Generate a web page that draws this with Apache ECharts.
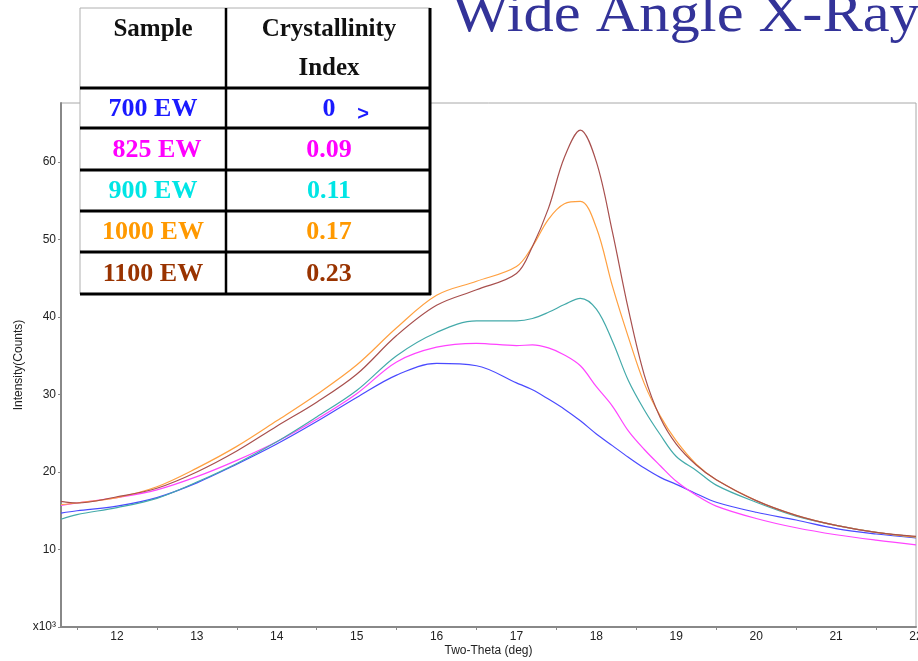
<!DOCTYPE html>
<html>
<head>
<meta charset="utf-8">
<script src="https://cdn.jsdelivr.net/npm/echarts@6/dist/echarts.min.js"></script>
<style>
  html, body { margin: 0; padding: 0; background: #fff; }
  #chart { width: 918px; height: 661px; }
</style>
</head>
<body>
<div id="chart"></div>
<script>
// Two-theta positions (deg) shared by every diffraction trace
const twoTheta = [11.3, 11.5, 12, 12.5, 13, 13.5, 14, 14.5, 15, 15.5, 16, 16.5, 17, 17.2, 17.4, 17.6, 17.8, 18, 18.2, 18.4, 18.6, 18.8, 19, 19.25, 19.5, 20, 20.5, 21, 21.5, 22];

// Intensity in thousands of counts, one array per membrane
const ew700  = [14.7, 15.0, 15.6, 16.7, 18.6, 21.0, 23.6, 26.5, 29.6, 32.5, 34.0, 33.7, 31.5, 30.6, 29.4, 28.1, 26.6, 24.9, 23.4, 21.9, 20.5, 19.3, 18.4, 17.2, 16.1, 14.8, 13.8, 12.7, 12.0, 11.5];
const ew825  = [15.7, 16.0, 16.7, 17.7, 19.4, 21.5, 23.9, 26.8, 30.1, 34.2, 36.1, 36.6, 36.3, 36.4, 36.0, 35.1, 33.7, 31.0, 28.5, 25.3, 22.9, 20.8, 18.8, 17.0, 15.6, 14.0, 12.8, 11.9, 11.2, 10.6];
const ew900  = [13.9, 14.5, 15.4, 16.6, 18.7, 21.1, 23.9, 27.1, 30.5, 35.0, 38.0, 39.5, 39.5, 39.8, 40.6, 41.6, 42.4, 41.0, 36.9, 31.8, 28.0, 24.8, 22.0, 20.2, 18.3, 16.1, 14.3, 13.1, 12.2, 11.6];
const ew1000 = [15.8, 16.0, 16.7, 18.1, 20.5, 23.3, 26.6, 30.0, 33.8, 38.6, 42.8, 44.6, 46.5, 49.1, 52.6, 54.6, 54.9, 51.5, 44.0, 37.4, 31.4, 27.2, 24.0, 21.0, 19.0, 16.3, 14.4, 13.1, 12.2, 11.6];
const ew1100 = [16.2, 16.0, 16.8, 17.9, 20.0, 22.7, 25.9, 29.0, 32.6, 37.6, 41.5, 43.5, 45.6, 49.1, 54.0, 60.6, 64.1, 60.0, 51.0, 41.0, 32.5, 27.0, 23.6, 20.9, 19.0, 16.3, 14.4, 13.1, 12.2, 11.7];

// Legend table: sample names and their crystallinity index
const sampleNames = ['700 EW', '825 EW', '900 EW', '1000 EW', '1100 EW'];
const crystallinity = ['0', '0.09', '0.11', '0.17', '0.23'];

const textColors = ['#1a1aff', '#ff00ff', '#00e5e5', '#ff9900', '#993300'];
const lineColors = ['#4a4aff', '#ff44ff', '#44aaaa', '#ffa040', '#a8504e'];
const traces = [ew700, ew825, ew900, ew1000, ew1100];

const chart = echarts.init(document.getElementById('chart'), null, { renderer: 'canvas' });

const series = traces.map((vals, i) => ({
  name: sampleNames[i],
  type: 'line',
  data: twoTheta.map((x, k) => [x, vals[k]]),
  showSymbol: false,
  smooth: 0.35,
  lineStyle: { color: lineColors[i], width: 1.2 },
  z: 2 + i
}));

// Table drawn on top of the plot, upper-left
const tbl = { left: 80, right: 430, top: 8, mid: 226, rows: [88, 128, 170, 211, 252, 294] };
const g = [];
g.push({ type: 'rect', shape: { x: tbl.left, y: tbl.top, width: tbl.right - tbl.left, height: tbl.rows[5] - tbl.top },
  style: { fill: '#fff', stroke: '#b0b0b0', lineWidth: 1 }, z: 100 });
tbl.rows.forEach(yy => {
  g.push({ type: 'line', shape: { x1: tbl.left, y1: yy, x2: tbl.right + 1, y2: yy }, style: { stroke: '#000', lineWidth: 3 }, z: 101 });
});
g.push({ type: 'line', shape: { x1: tbl.mid, y1: tbl.top, x2: tbl.mid, y2: tbl.rows[5] }, style: { stroke: '#000', lineWidth: 2.5 }, z: 101 });
g.push({ type: 'line', shape: { x1: tbl.right, y1: tbl.top, x2: tbl.right, y2: tbl.rows[5] + 1 }, style: { stroke: '#000', lineWidth: 3 }, z: 101 });

const serifBold = 'bold 25px "Liberation Serif", "Times New Roman", serif';
g.push({ type: 'text', x: 153, y: 30, style: { text: 'Sample', font: serifBold, fill: '#111', align: 'center', verticalAlign: 'middle' }, z: 102 });
g.push({ type: 'text', x: 329, y: 30, style: { text: 'Crystallinity', font: serifBold, fill: '#111', align: 'center', verticalAlign: 'middle' }, z: 102 });
g.push({ type: 'text', x: 329, y: 69, style: { text: 'Index', font: serifBold, fill: '#111', align: 'center', verticalAlign: 'middle' }, z: 102 });
sampleNames.forEach((name, i) => {
  const cy = (tbl.rows[i] + tbl.rows[i + 1]) / 2 + 1;
  g.push({ type: 'text', x: i === 1 ? 157 : 153, y: cy, style: { text: name, font: 'bold 26px "Liberation Serif", "Times New Roman", serif', fill: textColors[i], align: 'center', verticalAlign: 'middle' }, z: 102 });
  g.push({ type: 'text', x: 329, y: cy, style: { text: crystallinity[i], font: 'bold 26px "Liberation Serif", "Times New Roman", serif', fill: textColors[i], align: 'center', verticalAlign: 'middle' }, z: 102 });
});
g.push({ type: 'text', x: 363, y: 114, style: { text: '>', font: 'bold 20px "Liberation Sans", Arial, sans-serif', fill: '#1a1aff', align: 'center', verticalAlign: 'middle' }, z: 102 });

// Slide heading, runs off the right edge
g.push({ type: 'text', x: 452, y: 17, scaleX: 1.12,
  style: { text: 'Wide Angle X-Ray', font: '54px "Liberation Serif", "Times New Roman", serif', fill: '#333399', align: 'left', verticalAlign: 'middle' }, z: 102 });

chart.setOption({
  animation: false,
  backgroundColor: '#fff',
  grid: { left: 61, right: 2, top: 103, bottom: 34, show: true, borderColor: '#a8a8a8', borderWidth: 1, containLabel: false, outerBoundsMode: 'none' },
  xAxis: {
    type: 'value', min: 11.3, max: 22, splitNumber: 11,
    name: 'Two-Theta (deg)', nameLocation: 'middle', nameGap: 18, nameMoveOverlap: false,
    nameTextStyle: { fontFamily: '"Liberation Sans", Arial, sans-serif', fontSize: 12, color: '#222' },
    axisLine: { show: true, onZero: false, lineStyle: { color: '#888', width: 2 } },
    axisTick: { show: false },
    minorTick: { show: true, splitNumber: 2, length: 3, lineStyle: { color: '#888' } },
    splitLine: { show: false },
    axisLabel: {
      fontFamily: '"Liberation Sans", Arial, sans-serif', fontSize: 12, color: '#222', margin: 4,
      showMinLabel: false,
      formatter: v => (Math.abs(v - Math.round(v)) < 1e-6 ? String(Math.round(v)) : '')
    }
  },
  yAxis: {
    type: 'value', min: 0, max: 67.6, interval: 10,
    name: 'Intensity(Counts)', nameLocation: 'middle', nameGap: 36, nameRotate: 90, nameMoveOverlap: false,
    nameTextStyle: { fontFamily: '"Liberation Sans", Arial, sans-serif', fontSize: 12, color: '#222' },
    axisLine: { show: true, lineStyle: { color: '#888', width: 2 } },
    axisTick: { show: true, length: 3, lineStyle: { color: '#888' } },
    splitLine: { show: false },
    axisLabel: {
      fontFamily: '"Liberation Sans", Arial, sans-serif', fontSize: 12, color: '#222', margin: 5,
      showMaxLabel: false,
      formatter: v => (v === 0 ? 'x10³' : (v % 10 === 0 ? String(v) : ''))
    }
  },
  series: series,
  graphic: g
});
</script>
</body>
</html>
